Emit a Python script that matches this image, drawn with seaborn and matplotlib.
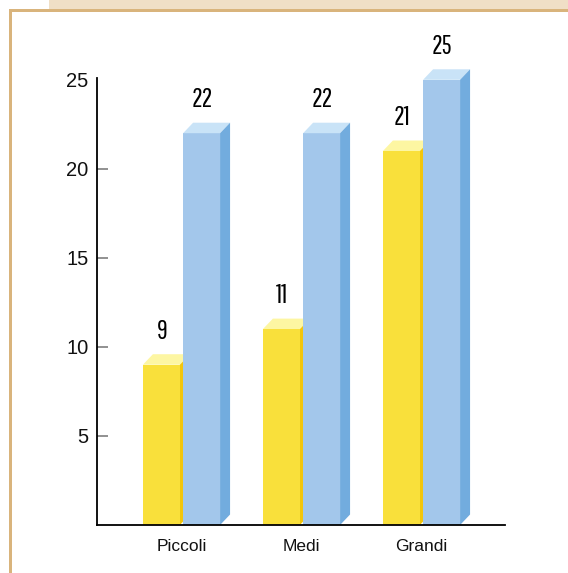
import matplotlib
matplotlib.use("Agg")
import matplotlib.pyplot as plt
from matplotlib.patches import Polygon, Rectangle
import numpy as np
import pandas as pd
import seaborn as sns
from matplotlib import font_manager

# Chart data
categories = ["Piccoli", "Medi", "Grandi"]
series_names = ["A", "B"]
values_a = [9, 11, 21]
values_b = [22, 22, 25]
y_ticks = [5, 10, 15, 20, 25]

df = pd.DataFrame({
    "categoria": categories * 2,
    "serie": [series_names[0]] * 3 + [series_names[1]] * 3,
    "valore": values_a + values_b,
})

sns.set_style("white")
plt.rcParams["font.family"] = ["Liberation Sans", "DejaVu Sans"]

names = {f.name for f in font_manager.fontManager.ttflist}
label_family = [n for n in ["Pathway Gothic One", "Oswald", "Roboto Condensed"] if n in names] + ["DejaVu Sans"]

FRONT = ["#f9e03b", "#a3c7eb"]
TOP = ["#fdf6a2", "#c9e3f7"]
SIDE = ["#f3c60c", "#72acde"]

fig = plt.figure(figsize=(5.68, 5.73), dpi=100, facecolor="white")

# page decoration: beige band and tan panel border
fig.add_artist(Rectangle((49 / 568, 1 - 9 / 573), 1, 9 / 573, transform=fig.transFigure,
                         facecolor="#f0dfc6", edgecolor="none", zorder=0))
fig.add_artist(Rectangle((9 / 568, 1 - 12 / 573), 1, 3 / 573, transform=fig.transFigure,
                         facecolor="#d9b47c", edgecolor="none", zorder=0))
fig.add_artist(Rectangle((9 / 568, 0), 3 / 568, 1 - 9 / 573, transform=fig.transFigure,
                         facecolor="#d9b47c", edgecolor="none", zorder=0))

ax = fig.add_axes([97 / 568, 1 - 525 / 573, 408 / 568, 447 / 573])
ax.set_facecolor("none")

sns.barplot(data=df, x="categoria", y="valore", hue="serie", order=categories,
            hue_order=series_names, palette=FRONT, width=0.67, gap=0.08,
            saturation=1, legend=False, ax=ax, zorder=2, edgecolor="none", linewidth=0)

ax.set_xlim(-0.704, 2.696)
ax.set_ylim(0, 25.1)
fig.canvas.draw()

# depth of the pseudo-3D bars, in pixels
dx_px, dy_px = 10, 10.5
to_disp = ax.transData.transform
to_data = ax.transData.inverted().transform

bars = [p for p in ax.patches if isinstance(p, Rectangle)]
for bar in bars:
    x0, y0 = bar.get_x(), bar.get_y()
    x1, h = x0 + bar.get_width(), y0 + bar.get_height()
    fc = bar.get_facecolor()
    idx = 0 if np.allclose(fc[:3], matplotlib.colors.to_rgb(FRONT[0])) else 1

    def back(pt):
        d = to_disp(pt)
        return to_data((d[0] + dx_px, d[1] + dy_px))

    top = [(x0, h), (x1, h), tuple(back((x1, h))), tuple(back((x0, h)))]
    side = [(x1, y0), tuple(back((x1, y0))), tuple(back((x1, h))), (x1, h)]
    z = 1.0 if idx == 0 else 2.5
    ax.add_patch(Polygon(top, closed=True, facecolor=TOP[idx], edgecolor="none",
                         zorder=z, clip_on=False))
    ax.add_patch(Polygon(side, closed=True, facecolor=SIDE[idx], edgecolor="none",
                         zorder=z, clip_on=False))
    ax.annotate(f"{int(round(h))}", xy=((x0 + x1) / 2, h), xytext=(0.5, 24),
                textcoords="offset points", ha="center", va="center",
                fontsize=19, family=label_family, color="black",
                annotation_clip=False)

sns.despine(ax=ax)
for s in ["left", "bottom"]:
    ax.spines[s].set_color("black")
    ax.spines[s].set_linewidth(1.3)
    ax.spines[s].set_zorder(3)

ax.set_yticks(y_ticks)
ax.set_yticklabels([str(t) for t in y_ticks], fontsize=14.5, color="#111111")
ax.tick_params(axis="y", direction="in", length=8, width=1.3, color="#888888", pad=6, left=True)
ax.yaxis.get_major_ticks()[-1].tick1line.set_visible(False)
ax.tick_params(axis="x", length=0, pad=10, labelsize=12.5, labelcolor="#111111")
ax.set_xlabel("")
ax.set_ylabel("")

fig.savefig("out.png", dpi=100, facecolor="white")
